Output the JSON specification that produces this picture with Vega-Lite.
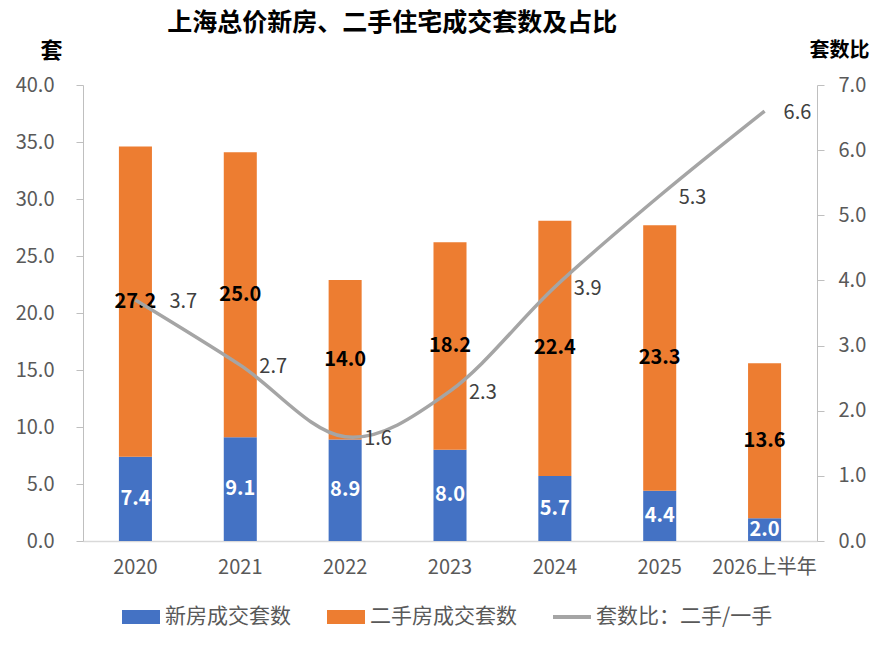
{
  "$schema": "https://vega.github.io/schema/vega-lite/v6.json",
  "width": 734,
  "height": 456,
  "autosize": {"type": "none"},
  "padding": {"left": 83, "top": 85, "right": 76, "bottom": 110},
  "background": "white",
  "config": {
    "font": "Noto Sans CJK SC",
    "view": {"stroke": null},
    "axis": {"grid": false, "labelFont": "Noto Sans CJK SC", "titleFont": "Noto Sans CJK SC"}
  },
  "title": {
    "text": "上海总价新房、二手住宅成交套数及占比",
    "anchor": "start",
    "dx": 152,
    "offset": 3,
    "fontSize": 25,
    "fontWeight": "bold",
    "color": "#000000",
    "font": "Noto Sans CJK SC"
  },
  "datasets": {
    "bars": [
      {"year": "2020", "series": "新房成交套数", "value": 7.4},
      {"year": "2020", "series": "二手房成交套数", "value": 27.2},
      {"year": "2021", "series": "新房成交套数", "value": 9.1},
      {"year": "2021", "series": "二手房成交套数", "value": 25.0},
      {"year": "2022", "series": "新房成交套数", "value": 8.9},
      {"year": "2022", "series": "二手房成交套数", "value": 14.0},
      {"year": "2023", "series": "新房成交套数", "value": 8.0},
      {"year": "2023", "series": "二手房成交套数", "value": 18.2},
      {"year": "2024", "series": "新房成交套数", "value": 5.7},
      {"year": "2024", "series": "二手房成交套数", "value": 22.4},
      {"year": "2025", "series": "新房成交套数", "value": 4.4},
      {"year": "2025", "series": "二手房成交套数", "value": 23.3},
      {"year": "2026上半年", "series": "新房成交套数", "value": 2.0},
      {"year": "2026上半年", "series": "二手房成交套数", "value": 13.6}
    ],
    "ratio": [
      {"year": "2020", "series": "套数比：二手/一手", "ratio": 3.7},
      {"year": "2021", "series": "套数比：二手/一手", "ratio": 2.7},
      {"year": "2022", "series": "套数比：二手/一手", "ratio": 1.6},
      {"year": "2023", "series": "套数比：二手/一手", "ratio": 2.3},
      {"year": "2024", "series": "套数比：二手/一手", "ratio": 3.9},
      {"year": "2025", "series": "套数比：二手/一手", "ratio": 5.3},
      {"year": "2026上半年", "series": "套数比：二手/一手", "ratio": 6.6}
    ]
  },
  "encoding": {
    "x": {
      "field": "year",
      "type": "nominal",
      "sort": null,
      "scale": {"paddingInner": 0.685, "paddingOuter": 0.3425},
      "axis": {
        "title": null,
        "labelAngle": 0,
        "labelFontSize": 20,
        "labelColor": "#595959",
        "labelPadding": 16,
        "ticks": false,
        "domainColor": "#D9D9D9",
        "domainWidth": 1.3
      }
    }
  },
  "layer": [
    {
      "data": {"name": "bars"},
      "layer": [
        {
          "mark": {"type": "bar"},
          "encoding": {
            "y": {
              "field": "value",
              "type": "quantitative",
              "stack": "zero",
              "scale": {"domain": [0, 40]},
              "axis": {
                "values": [0, 5, 10, 15, 20, 25, 30, 35, 40],
                "format": ".1f",
                "labelFontSize": 20,
                "labelColor": "#595959",
                "labelPadding": 22,
                "tickSize": 7,
                "tickColor": "#BFBFBF",
                "domainColor": "#BFBFBF",
                "title": "套",
                "titleAngle": 0,
                "titleFontSize": 22,
                "titleFontWeight": "bold",
                "titleColor": "#000000",
                "titleAlign": "center",
                "titleBaseline": "middle",
                "titleX": -32,
                "titleY": -35
              }
            },
            "color": {
              "field": "series",
              "type": "nominal",
              "scale": {
                "domain": ["新房成交套数", "二手房成交套数", "套数比：二手/一手"],
                "range": ["#4472C4", "#ED7D31", "#A5A5A5"]
              },
              "legend": {
                "title": null,
                "orient": "none",
                "direction": "horizontal",
                "legendX": 39,
                "legendY": 513,
                "symbolSize": 1444,
                "symbolStrokeWidth": 0,
                "labelFontSize": 21,
                "labelColor": "#595959",
                "labelOffset": 5,
                "labelLimit": 400,
                "columnPadding": 36,
                "encode": {
                  "symbols": {
                    "update": {
                      "shape": {"signal": "datum.value === '套数比：二手/一手' ? 'M-1,-0.1H1V0.1H-1Z' : 'M-1,-0.37H1V0.37H-1Z'"}
                    }
                  }
                }
              }
            },
            "order": {"field": "series", "sort": "descending"}
          }
        },
        {
          "transform": [
            {"stack": "value", "groupby": ["year"], "sort": [{"field": "series", "order": "descending"}], "as": ["v0", "v1"]},
            {"calculate": "(datum.v0 + datum.v1) / 2", "as": "mid"}
          ],
          "mark": {"type": "text", "fontSize": 20, "fontWeight": "bold", "baseline": "middle"},
          "encoding": {
            "y": {"field": "mid", "type": "quantitative"},
            "text": {"field": "value", "type": "quantitative", "format": ".1f"},
            "color": {
              "condition": {"test": "datum.series === '新房成交套数'", "value": "#FFFFFF"},
              "value": "#000000"
            }
          }
        }
      ]
    },
    {
      "data": {"name": "ratio"},
      "layer": [
        {
          "mark": {"type": "line", "strokeWidth": 3.5, "interpolate": "cardinal"},
          "encoding": {
            "y": {
              "field": "ratio",
              "type": "quantitative",
              "scale": {"domain": [0, 7]},
              "axis": {
                "orient": "right",
                "values": [0, 1, 2, 3, 4, 5, 6, 7],
                "format": ".1f",
                "labelFontSize": 20,
                "labelColor": "#595959",
                "labelPadding": 14,
                "tickSize": 7,
                "tickColor": "#BFBFBF",
                "domainColor": "#BFBFBF",
                "title": "套数比",
                "titleAngle": 0,
                "titleFontSize": 20,
                "titleFontWeight": "bold",
                "titleColor": "#000000",
                "titleAlign": "center",
                "titleBaseline": "middle",
                "titleX": 22,
                "titleY": -35
              }
            },
            "color": {"field": "series", "type": "nominal", "legend": null}
          }
        },
        {
          "mark": {"type": "text", "fontSize": 20, "align": "left", "baseline": "middle", "dx": {"expr": "datum.year === '2020' ? 34 : 19"}, "dy": 2, "color": "#404040"},
          "encoding": {
            "y": {"field": "ratio", "type": "quantitative"},
            "text": {"field": "ratio", "type": "quantitative", "format": ".1f"}
          }
        }
      ]
    }
  ],
  "resolve": {"scale": {"y": "independent"}}
}
